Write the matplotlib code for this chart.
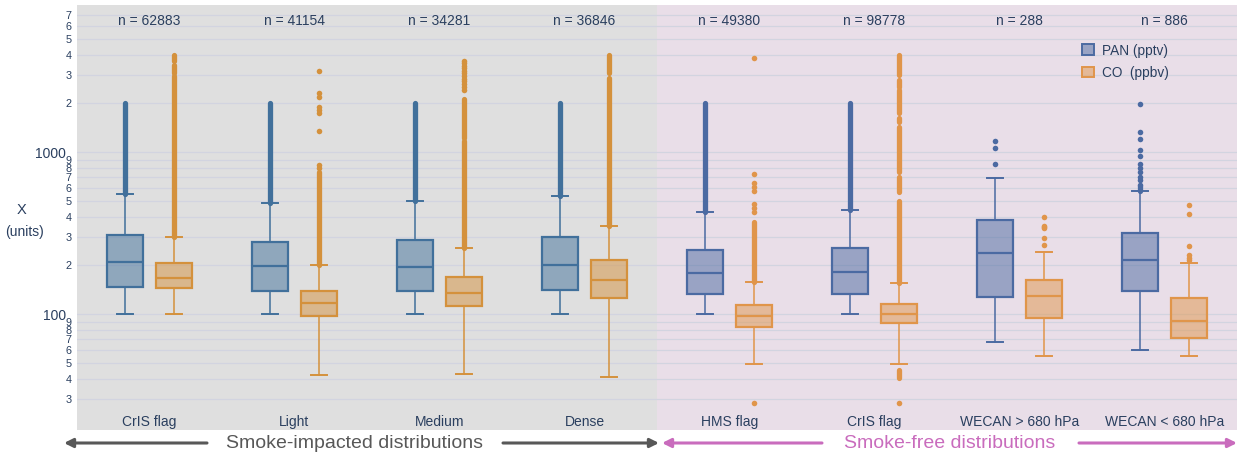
import matplotlib
matplotlib.use("Agg")
import matplotlib.pyplot as plt
from matplotlib.patches import Patch
from matplotlib.colors import to_rgba

plt.rcParams['font.family'] = ['Liberation Sans', 'DejaVu Sans']

# ---- data -------------------------------------------------------------
categories = ["CrIS flag", "Light", "Medium", "Dense",
              "HMS flag", "CrIS flag", "WECAN > 680 hPa", "WECAN < 680 hPa"]
n_labels = ["n = 62883", "n = 41154", "n = 34281", "n = 36846",
            "n = 49380", "n = 98778", "n = 288", "n = 886"]

# box statistics per category: (lower whisker, Q1, median, Q3, upper whisker)
pan_stats = [(100, 147, 209, 308, 551),
             (100, 140, 198, 279, 489),
             (100, 140, 197, 286, 502),
             (100, 141, 200, 299, 535),
             (100, 133, 181, 251, 427),
             (100, 134, 182, 258, 443),
             (67, 127, 238, 382, 692),
             (60, 139, 216, 316, 577)]
co_stats = [(100, 146, 168, 208, 301),
            (42, 98, 117, 139, 201),
            (43, 112, 136, 170, 257),
            (41, 126, 162, 215, 351),
            (49, 83, 97, 114, 159),
            (49, 88, 101, 115, 157),
            (55, 95, 130, 163, 243),
            (55, 71, 91, 126, 207)]

# runs of outliers that are packed so densely they form a solid column
pan_dense = [[(551, 2000)], [(489, 2000)], [(502, 2000)], [(535, 2000)],
             [(427, 2000)], [(443, 2000)], [], [(577, 620)]]
co_dense = [[(301, 2960), (3100, 3460), (3660, 4000)],
            [(201, 760)],
            [(257, 1180), (1220, 2130)],
            [(351, 2870), (3075, 3980)],
            [(159, 373)],
            [(157, 500), (570, 700), (760, 1440), (1545, 1630),
             (1740, 2420), (2520, 2800), (2990, 3990), (40.3, 45.3)],
            [], []]

# individual outliers
pan_fliers = [[], [], [], [], [], [],
              [847, 1060, 1180],
              [628, 674, 706, 759, 796, 847, 950, 1033, 1203, 1340, 1995]]
co_fliers = [[],
             [804, 835, 1358, 1755, 1825, 1905, 2200, 2310, 3190],
             [2430, 2545, 2645, 2745, 2850, 2960, 3075, 3190, 3300,
              3425, 3540, 3670],
             [],
             [28.5, 430, 451, 480, 580, 614, 649, 731, 3840],
             [28.5],
             [268, 297, 340, 345, 351, 400],
             [216, 222, 232, 265, 416, 471]]

# ---- styling ----------------------------------------------------------
TXT = '#2a3f5f'
PAN_C = ['#41709b'] * 4 + ['#4b6aa2'] * 4
CO_C = ['#d4913c'] * 4 + ['#e0954a'] * 4
OFF = 0.172
BOX_W = 0.248
CAP_W = 0.11

W, H = 1239, 455
fig = plt.figure(figsize=(W / 100, H / 100), dpi=100)
ax = fig.add_axes([77 / W, 25 / H, 1160 / W, 425 / H])
ax.set_facecolor('none')
for s in ax.spines.values():
    s.set_visible(False)

ax.axvspan(-0.5, 3.5, color='#dfdfdf', zorder=0, lw=0)
ax.axvspan(3.5, 7.5, color='#e9dee8', zorder=0, lw=0)

ax.set_yscale('log')
ax.set_xlim(-0.5, 7.5)
ax.set_ylim(19.3, 8110)

major = [100, 1000]
minor = [30, 40, 50, 60, 70, 80, 90,
         200, 300, 400, 500, 600, 700, 800, 900,
         2000, 3000, 4000, 5000, 6000, 7000]
ax.set_yticks(major, labels=['100', '1000'])
ax.set_yticks(minor, labels=[str(v)[0] for v in minor], minor=True)
ax.tick_params(axis='y', which='major', length=0, pad=8, labelsize=10,
               labelcolor=TXT)
ax.tick_params(axis='y', which='minor', length=0, pad=4, labelsize=7.8,
               labelcolor=TXT)
ax.set_xticks([])
for v in major + minor:
    ax.axhline(v, color='#d2d4e0', lw=0.9, zorder=0.5)


def draw(stats, fliers, dense, colors, xoff):
    for i, (lo, q1, med, q3, hi) in enumerate(stats):
        c = colors[i]
        x = i + xoff
        for a, b in dense[i]:
            ax.vlines(x, a, b, color=c, lw=3.8, capstyle='round', zorder=2)
        st = dict(whislo=lo, q1=q1, med=med, q3=q3, whishi=hi,
                  fliers=fliers[i])
        ax.bxp([st], positions=[x], widths=BOX_W, capwidths=CAP_W,
               patch_artist=True, showfliers=True, manage_ticks=False,
               boxprops=dict(facecolor=to_rgba(c, 0.5), edgecolor=c, lw=1.6),
               medianprops=dict(color=c, lw=1.6),
               whiskerprops=dict(color=c, lw=1.1),
               capprops=dict(color=c, lw=1.4),
               flierprops=dict(marker='o', markersize=4, markerfacecolor=c,
                               markeredgecolor='none'))


draw(pan_stats, pan_fliers, pan_dense, PAN_C, -OFF)
draw(co_stats, co_fliers, co_dense, CO_C, OFF)

tr = ax.get_xaxis_transform()
for i, (cat, nl) in enumerate(zip(categories, n_labels)):
    ax.text(i, 0.019, cat, transform=tr, ha='center', va='center',
            fontsize=10, color=TXT)
    ax.text(i, 0.963, nl, transform=tr, ha='center', va='center',
            fontsize=10, color=TXT)

# y-axis title
fig.text(22 / W, 1 - 210 / H, 'X', ha='center', va='center', fontsize=10.5,
         color=TXT)
fig.text(24 / W, 1 - 232 / H, '(units)', ha='center', va='center',
         fontsize=10, color=TXT)

handles = [Patch(facecolor=to_rgba(PAN_C[-1], 0.5), edgecolor=PAN_C[-1], lw=1.4),
           Patch(facecolor=to_rgba(CO_C[-1], 0.5), edgecolor=CO_C[-1], lw=1.4)]
ax.legend(handles, ['PAN (pptv)', 'CO  (ppbv)'], loc='upper left',
          bbox_to_anchor=(0.862, 0.922), frameon=False, fontsize=9.8,
          labelcolor=TXT, handlelength=0.85, handleheight=0.85,
          handletextpad=0.6, labelspacing=0.6, borderaxespad=0)

# section arrows under the plot
yA = 1 - 443 / H
GRAY = '#585858'
PINK = '#c96cbd'


def arrow(x0, x1, color):
    fig.add_artist(matplotlib.patches.FancyArrowPatch(
        (x0 / W, yA), (x1 / W, yA), transform=fig.transFigure,
        arrowstyle='-|>', mutation_scale=13, color=color, lw=2.2,
        shrinkA=0, shrinkB=0))


arrow(207, 64, GRAY)
arrow(503, 659, GRAY)
arrow(822, 662, PINK)
arrow(1079, 1237, PINK)
fig.text(354 / W, yA, 'Smoke-impacted distributions', ha='center',
         va='center', fontsize=14, color=GRAY)
fig.text(950 / W, yA, 'Smoke-free distributions', ha='center',
         va='center', fontsize=14, color=PINK)

fig.savefig('out.png', dpi=100)
